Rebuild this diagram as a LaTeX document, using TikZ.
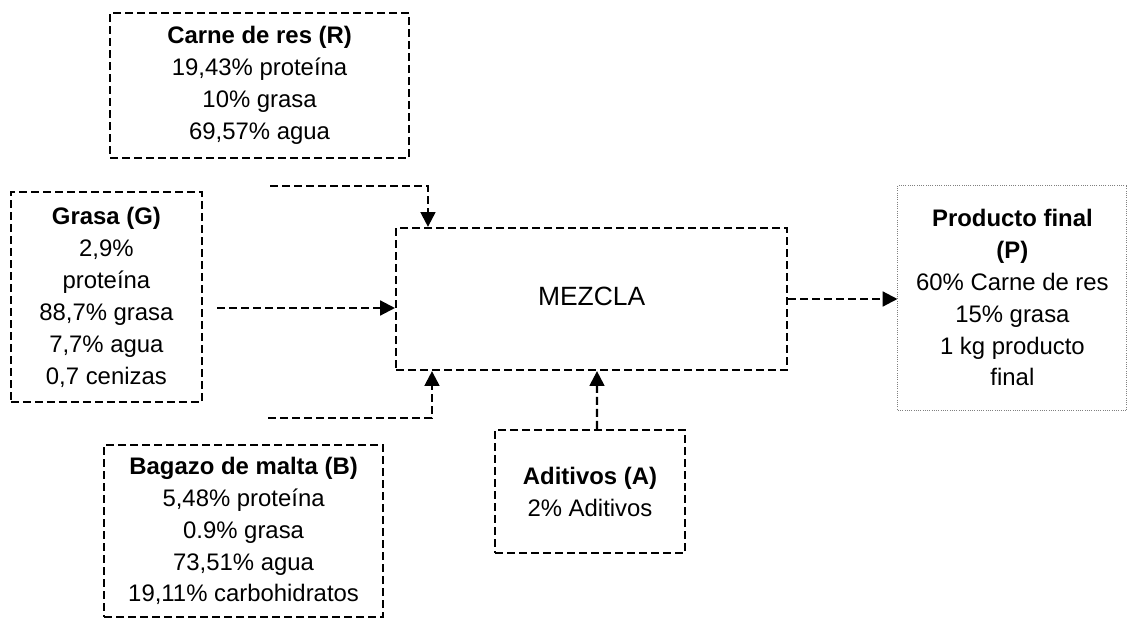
\documentclass[tikz,border=0pt]{standalone}
\usepackage{fontspec}
\setmainfont{Liberation Sans}
\usepackage{tikz}
\usetikzlibrary{arrows.meta, calc, positioning}

\begin{document}
\begin{tikzpicture}[>={Triangle[length=10.5pt,width=10.5pt]},
	flow/.style={dashed, dash pattern=on 0.2cm off 0.1cm, line width=1.6pt},
	caja/.style={flow, align=center, inner sep=0pt, font=\fontsize{17}{22.7}\selectfont},
	salida/.style={draw=gray, densely dotted, line width=0.6pt, align=center, inner sep=0pt, font=\fontsize{17}{22.7}\selectfont}]
	\useasboundingbox (0,0) rectangle (28.2,-15.45);

	\node[caja, draw, minimum width=7.475cm, minimum height=3.625cm] (res) at (6.49,-2.14) {\textbf{Carne de res (R)}\\19,43\% proteína\\10\% grasa\\69,57\% agua};
	\node[caja, draw, minimum width=4.775cm, minimum height=5.25cm] (grasa) at (2.66,-7.43) {\textbf{Grasa (G)}\\2,9\%\\proteína\\88,7\% grasa\\7,7\% agua\\0,7 cenizas};
	\node[caja, draw, minimum width=9.775cm, minimum height=3.55cm] (mezcla) at (14.79,-7.475) {\raisebox{0.12cm}{\fontsize{18.8}{22.7}\selectfont MEZCLA}};
	\node[salida, minimum width=5.725cm, minimum height=5.625cm] (producto) at (25.31,-7.44) {\textbf{Producto final}\\\textbf{(P)}\\60\% Carne de res\\15\% grasa\\1 kg producto\\final};
	\node[caja, draw, minimum width=6.975cm, minimum height=4.3cm] (bagazo) at (6.09,-13.275) {\textbf{Bagazo de malta (B)}\\5,48\% proteína\\0.9\% grasa\\73,51\% agua\\19,11\% carbohidratos};
	\node[caja, draw, minimum width=4.75cm, minimum height=3.075cm] (aditivos) at (14.75,-12.29) {\textbf{Aditivos (A)}\\2\% Aditivos};

	% entradas a la mezcla
	\coordinate (rin) at (6.75,-4.65);
	\coordinate (gin) at (5.425,-7.7);
	\coordinate (bin) at (6.7,-10.45);
	\draw[flow,->] (rin) -| ($(mezcla.north west)+(0.825,0)$);
	\draw[flow,->] (gin) -- (gin -| mezcla.west);
	\draw[flow,->] (bin) -| ($(mezcla.south west)+(0.925,0)$);
	\draw[flow,->] ($(aditivos.north)+(0.175,0)$) -- ($(mezcla.south)+(0.135,0)$);
	\draw[flow,->] (mezcla.east) -- (mezcla.east -| producto.west);
\end{tikzpicture}
\end{document}
